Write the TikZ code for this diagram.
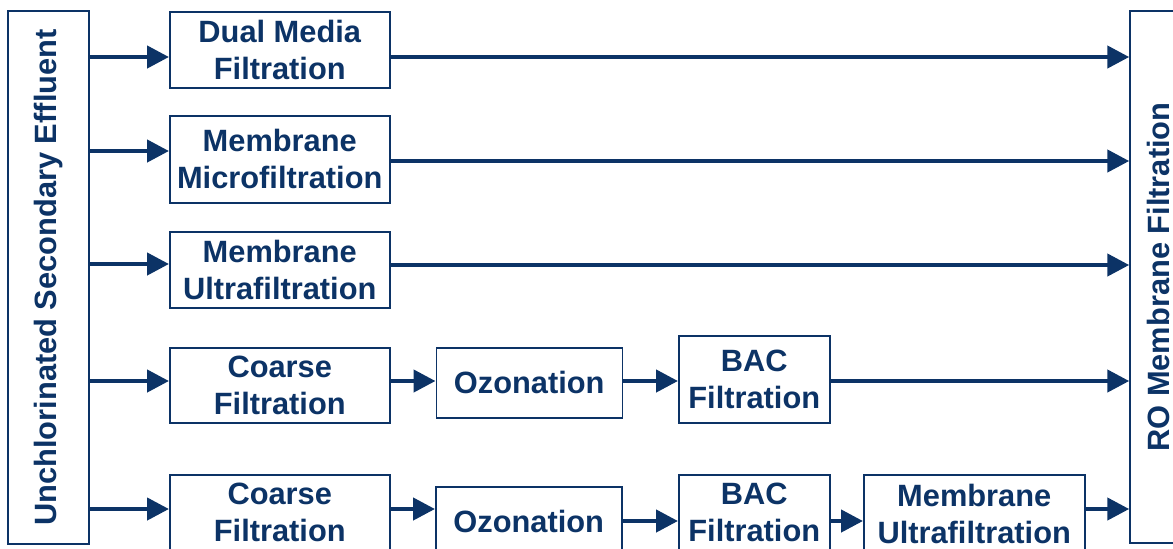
\documentclass[tikz,border=0pt]{standalone}
\usepackage{fontspec}
\setmainfont{Liberation Sans}
\usepackage{tikz}
\usetikzlibrary{arrows.meta, positioning}
\definecolor{navy}{HTML}{0C3366}
\newcommand{\stagefont}{\fontsize{15.4}{18.5}\selectfont\bfseries}
\tikzstyle{stage} = [
  draw=navy, line width=0.75pt, fill=white, anchor=north west,
  text=navy, font=\stagefont, align=center, inner sep=0pt
]
\tikzstyle{widebox} = [
  stage, minimum width=110pt, minimum height=37.5pt
]
\tikzstyle{sidebox} = [
  stage, anchor=center, rotate=90, minimum height=40.5pt
]
\tikzstyle{flow} = [
  -{Triangle[length=11pt,width=11pt]}, line width=2.2pt, draw=navy
]
\begin{document}
\begin{tikzpicture}[x=0.5pt, y=-0.5pt]
  \clip (0,0) rectangle (1173,548);

  % source and sink
  \node[sidebox, minimum width=266.5pt] (effluent) at (48.5,277.5)
    {Unchlorinated Secondary Effluent};
  \node[sidebox, minimum width=266pt, minimum height=28pt] (ro) at (1158,277)
    {RO Membrane Filtration};

  % single step trains
  \node[widebox, minimum height=38pt] (dualmedia) at (169,11)
    {Dual Media\\Filtration};
  \node[widebox, minimum height=43.5pt] (microfilt) at (169,115)
    {Membrane\\Microfiltration};
  \node[widebox, minimum height=38pt] (ultrafilt) at (169,231)
    {Membrane\\Ultrafiltration};

  % ozone / BAC train
  \node[widebox] (coarsea) at (169,347) {Coarse\\Filtration};
  \node[stage, right=22.5pt of coarsea.north east, anchor=north west,
        minimum width=93pt, minimum height=35pt]
    (ozonea) {Ozonation};
  \node[stage, minimum width=75.5pt, minimum height=43.5pt]
    (baca) at (678,335) {BAC\\Filtration};

  % ozone / BAC / UF train
  \node[widebox] (coarseb) at (169,474) {Coarse\\Filtration};
  \node[stage, minimum width=93pt, minimum height=35pt]
    (ozoneb) at (435,486) {Ozonation};
  \node[stage, minimum width=75.5pt, minimum height=38pt]
    (bacb) at (678,474) {BAC\\Filtration};
  \node[stage, minimum width=110.5pt, minimum height=39pt]
    (ultrafiltb) at (863,474) {Membrane\\Ultrafiltration};

  \draw[flow] (effluent.south |- 0,57)  -- (dualmedia.west |- 0,57);
  \draw[flow] (effluent.south |- 0,151) -- (microfilt.west |- 0,151);
  \draw[flow] (effluent.south |- 0,264) -- (ultrafilt.west |- 0,264);
  \draw[flow] (effluent.south |- 0,381) -- (coarsea.west |- 0,381);
  \draw[flow] (effluent.south |- 0,509) -- (coarseb.west |- 0,509);

  \draw[flow] (dualmedia.east |- 0,57)  -- (ro.north |- 0,57);
  \draw[flow] (microfilt.east |- 0,161) -- (ro.north |- 0,161);
  \draw[flow] (ultrafilt.east |- 0,265) -- (ro.north |- 0,265);

  \draw[flow] (coarsea.east |- 0,381) -- (ozonea.west |- 0,381);
  \draw[flow] (ozonea.east |- 0,381)  -- (baca.west |- 0,381);
  \draw[flow] (baca.east |- 0,381)    -- (ro.north |- 0,381);

  \draw[flow] (coarseb.east |- 0,509)    -- (ozoneb.west |- 0,509);
  \draw[flow] (ozoneb.east |- 0,521)     -- (bacb.west |- 0,521);
  \draw[flow] (bacb.east |- 0,521)       -- (ultrafiltb.west |- 0,521);
  \draw[flow] (ultrafiltb.east |- 0,509) -- (ro.north |- 0,509);

\end{tikzpicture}
\end{document}
